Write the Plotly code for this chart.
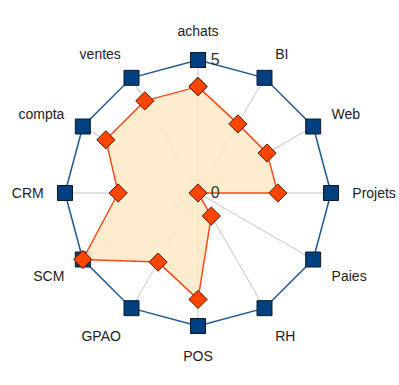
import plotly.graph_objects as go

categories = ["achats", "BI", "Web", "Projets", "Paies", "RH", "POS", "GPAO", "SCM", "CRM", "compta", "ventes"]
max_values = [5, 5, 5, 5, 5, 5, 5, 5, 5, 5, 5, 5]
actual_values = [4, 3, 3, 3, 0, 1, 4, 3, 5, 3, 4, 4]

cats_closed = categories + [categories[0]]

fig = go.Figure()
fig.add_trace(go.Scatterpolar(
    r=max_values + [max_values[0]], theta=cats_closed, mode="lines+markers",
    line=dict(color="#1f5a96", width=1.5),
    marker=dict(symbol="square", size=15, color="#004080", line=dict(color="#0a1a2a", width=1)),
    cliponaxis=False, showlegend=False, hoverinfo="skip"))
fig.add_trace(go.Scatterpolar(
    r=actual_values + [actual_values[0]], theta=cats_closed, mode="lines+markers",
    fill="toself", fillcolor="rgba(253,234,200,0.9)",
    line=dict(color="#ff4a1c", width=1.5),
    marker=dict(symbol="diamond", size=14, color="#ff4500", line=dict(color="#5a1a00", width=1)),
    cliponaxis=False, showlegend=False, hoverinfo="skip"))

cx, cy, rad = 198, 193, 133
W, H = 399, 385
fig.update_layout(
    width=W, height=H, margin=dict(l=0, r=0, t=0, b=0),
    paper_bgcolor="white", plot_bgcolor="white",
    font=dict(family="Liberation Sans, Arial, sans-serif", size=14, color="#222"),
    polar=dict(
        domain=dict(x=[(cx - rad) / W, (cx + rad) / W], y=[(H - cy - rad) / H, (H - cy + rad) / H]),
        bgcolor="white",
        angularaxis=dict(rotation=90, direction="clockwise", showline=False,
                         gridcolor="#c4c4c4", gridwidth=1,
                         ticks="outside", ticklen=18, tickcolor="rgba(0,0,0,0)",
                         tickfont=dict(family="Liberation Sans, Arial, sans-serif", size=14, color="#222")),
        radialaxis=dict(range=[0, 5], angle=90, tickangle=90, tickvals=[0, 5], ticktext=["0", "5"],
                        showline=False, showgrid=False, ticks="outside", ticklen=9,
                        tickcolor="rgba(0,0,0,0)", layer="above traces",
                        tickfont=dict(family="Liberation Sans, Arial, sans-serif", size=16, color="#333")),
    ),
)
fig.write_html("out.html", config={"displayModeBar": False},
               post_script="document.body.style.margin='0';document.body.style.padding='0';")
